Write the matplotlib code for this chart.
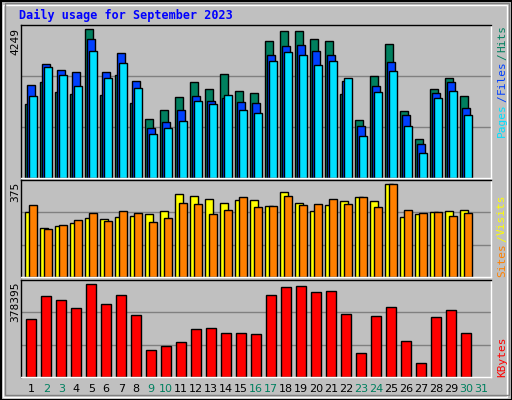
import matplotlib
matplotlib.use("Agg")
import matplotlib.pyplot as plt
import numpy as np
from matplotlib.patches import Rectangle

days = list(range(1, 32))
hits = [2118, 2747, 2461, 2404, 4249, 2375, 2947, 2147, 1677, 1934, 2309, 2747, 2547, 2976, 2490, 2433, 3897, 4179, 4179, 3954, 3897, 2404, 1649, 2918, 3811, 1915, 1108, 2547, 2861, 2347]
files = [2649, 3249, 3077, 3020, 3963, 3020, 3563, 2763, 1420, 1591, 1934, 2334, 2191, 2277, 2163, 2134, 3506, 3763, 3792, 3620, 3506, 2763, 1477, 2620, 3306, 1791, 962, 2420, 2734, 1991]
pages = [2334, 3163, 2934, 2620, 3620, 2849, 3277, 2563, 1248, 1420, 1620, 2191, 2105, 2363, 1934, 1848, 3334, 3592, 3506, 3220, 3334, 2849, 1191, 2448, 3049, 1477, 705, 2277, 2477, 1791]
visits = [263, 196, 205, 217, 238, 234, 242, 247, 255, 267, 334, 326, 313, 300, 309, 309, 288, 343, 300, 267, 292, 305, 321, 305, 375, 242, 255, 263, 267, 272]
sites = [292, 192, 209, 230, 259, 226, 267, 259, 222, 238, 300, 296, 255, 272, 321, 284, 288, 326, 292, 296, 313, 296, 321, 284, 375, 272, 259, 263, 246, 259]
kbytes = [237335, 328169, 311657, 282760, 378395, 295144, 332297, 253846, 109348, 125860, 142372, 196036, 200164, 179524, 179524, 175396, 332297, 365325, 369453, 344681, 348809, 258001, 96964, 249718, 283160, 147000, 57000, 245600, 274000, 179524]
weekend = [2, 3, 9, 10, 16, 17, 23, 24, 30, 31]

W, H = 512, 400
fig = plt.figure(figsize=(W/100, H/100), dpi=100)
fig.patch.set_facecolor("#C0C0C0")
fig.add_artist(Rectangle((0.5/W, 0.5/H), 1-1/W, 1-1/H, transform=fig.transFigure, fill=False, ec="black", lw=1.5))
fig.add_artist(Rectangle((3/W, 3/H), 1-8/W, 1-8/H, transform=fig.transFigure, fill=False, ec="white", lw=1))
fig.add_artist(Rectangle((5/W, 5/H), 1-8/W, 1-8/H, transform=fig.transFigure, fill=False, ec="#808080", lw=1))

fig.text(19/W, 1-15/H, "Daily usage for September 2023", color="#0000FF", fontsize=8.5,
         fontweight="bold", family="DejaVu Sans Mono", va="center")

L, R = 20.7, 490.7
def mkax(top, bot):
    ax = fig.add_axes([L/W, 1-bot/H, (R-L)/W, (bot-top)/H])
    ax.set_facecolor("#C0C0C0")
    ax.set_xlim(0, (R-L)/15)
    ax.set_xticks([]); ax.set_yticks([])
    for s in ax.spines.values():
        s.set_color("black"); s.set_linewidth(1)
    ax.spines["right"].set_color("white"); ax.spines["bottom"].set_color("white")
    return ax

x = np.arange(len(hits))
ebar = dict(edgecolor="black", linewidth=1, align="edge")

ax1 = mkax(25, 178)
ym1 = 4249 * 153 / 149
ax1.set_ylim(0, ym1)
for g in (ym1/3, 2*ym1/3):
    ax1.axhline(g, color="#808080", lw=1, zorder=0)
ax1.bar(x + 0.31, hits, 0.49, color="#00805F", **ebar)
ax1.bar(x + 0.44, files, 0.49, color="#0040FF", **ebar)
ax1.bar(x + 0.58, pages, 0.49, color="#00E0FF", **ebar)

ax2 = mkax(180, 277)
ym2 = 375 * 97 / 93
ax2.set_ylim(0, ym2)
for g in (ym2/3, 2*ym2/3):
    ax2.axhline(g, color="#808080", lw=1, zorder=0)
ax2.bar(x + 0.31, visits, 0.49, color="#FFFF00", **ebar)
ax2.bar(x + 0.58, sites, 0.49, color="#FF8000", **ebar)

ax3 = mkax(280, 377)
ym3 = 378395 * 97 / 93
ax3.set_ylim(0, ym3)
for g in (ym3/3, 2*ym3/3):
    ax3.axhline(g, color="#808080", lw=1, zorder=0)
ax3.bar(x + 0.37, kbytes, 0.67, color="#FF0000", **ebar)

for d in days:
    ax3.text(d - 0.3, -0.12, str(d), transform=ax3.get_xaxis_transform(), ha="center", va="center",
             fontsize=8, color="#00805F" if d in weekend else "black")

def ylab(txt, ytop):
    fig.text(15/W, 1-ytop/H, txt, rotation=90, ha="center", va="top", fontsize=8, family="DejaVu Sans Mono")
ylab("4249", 28)
ylab("375", 182)
ylab("378395", 281)

renderer = fig.canvas.get_renderer()
def rlab(parts, ybot):
    y = ybot
    for t, c in parts:
        tx = fig.text(502/W, 1-y/H, t, rotation=90, ha="center", va="bottom", fontsize=8,
                      family="DejaVu Sans Mono", color=c)
        y -= tx.get_window_extent(renderer).height + 1
rlab([("Pages", "#00E0FF"), ("/", "#0040FF"), ("Files", "#0040FF"), ("/", "#00805F"), ("Hits", "#00805F")], 137)
rlab([("Sites", "#FF8000"), ("/", "#FFFF00"), ("Visits", "#FFFF00")], 277)
rlab([("KBytes", "#FF0000")], 377)

fig.savefig("out.png", dpi=100, facecolor=fig.get_facecolor())
